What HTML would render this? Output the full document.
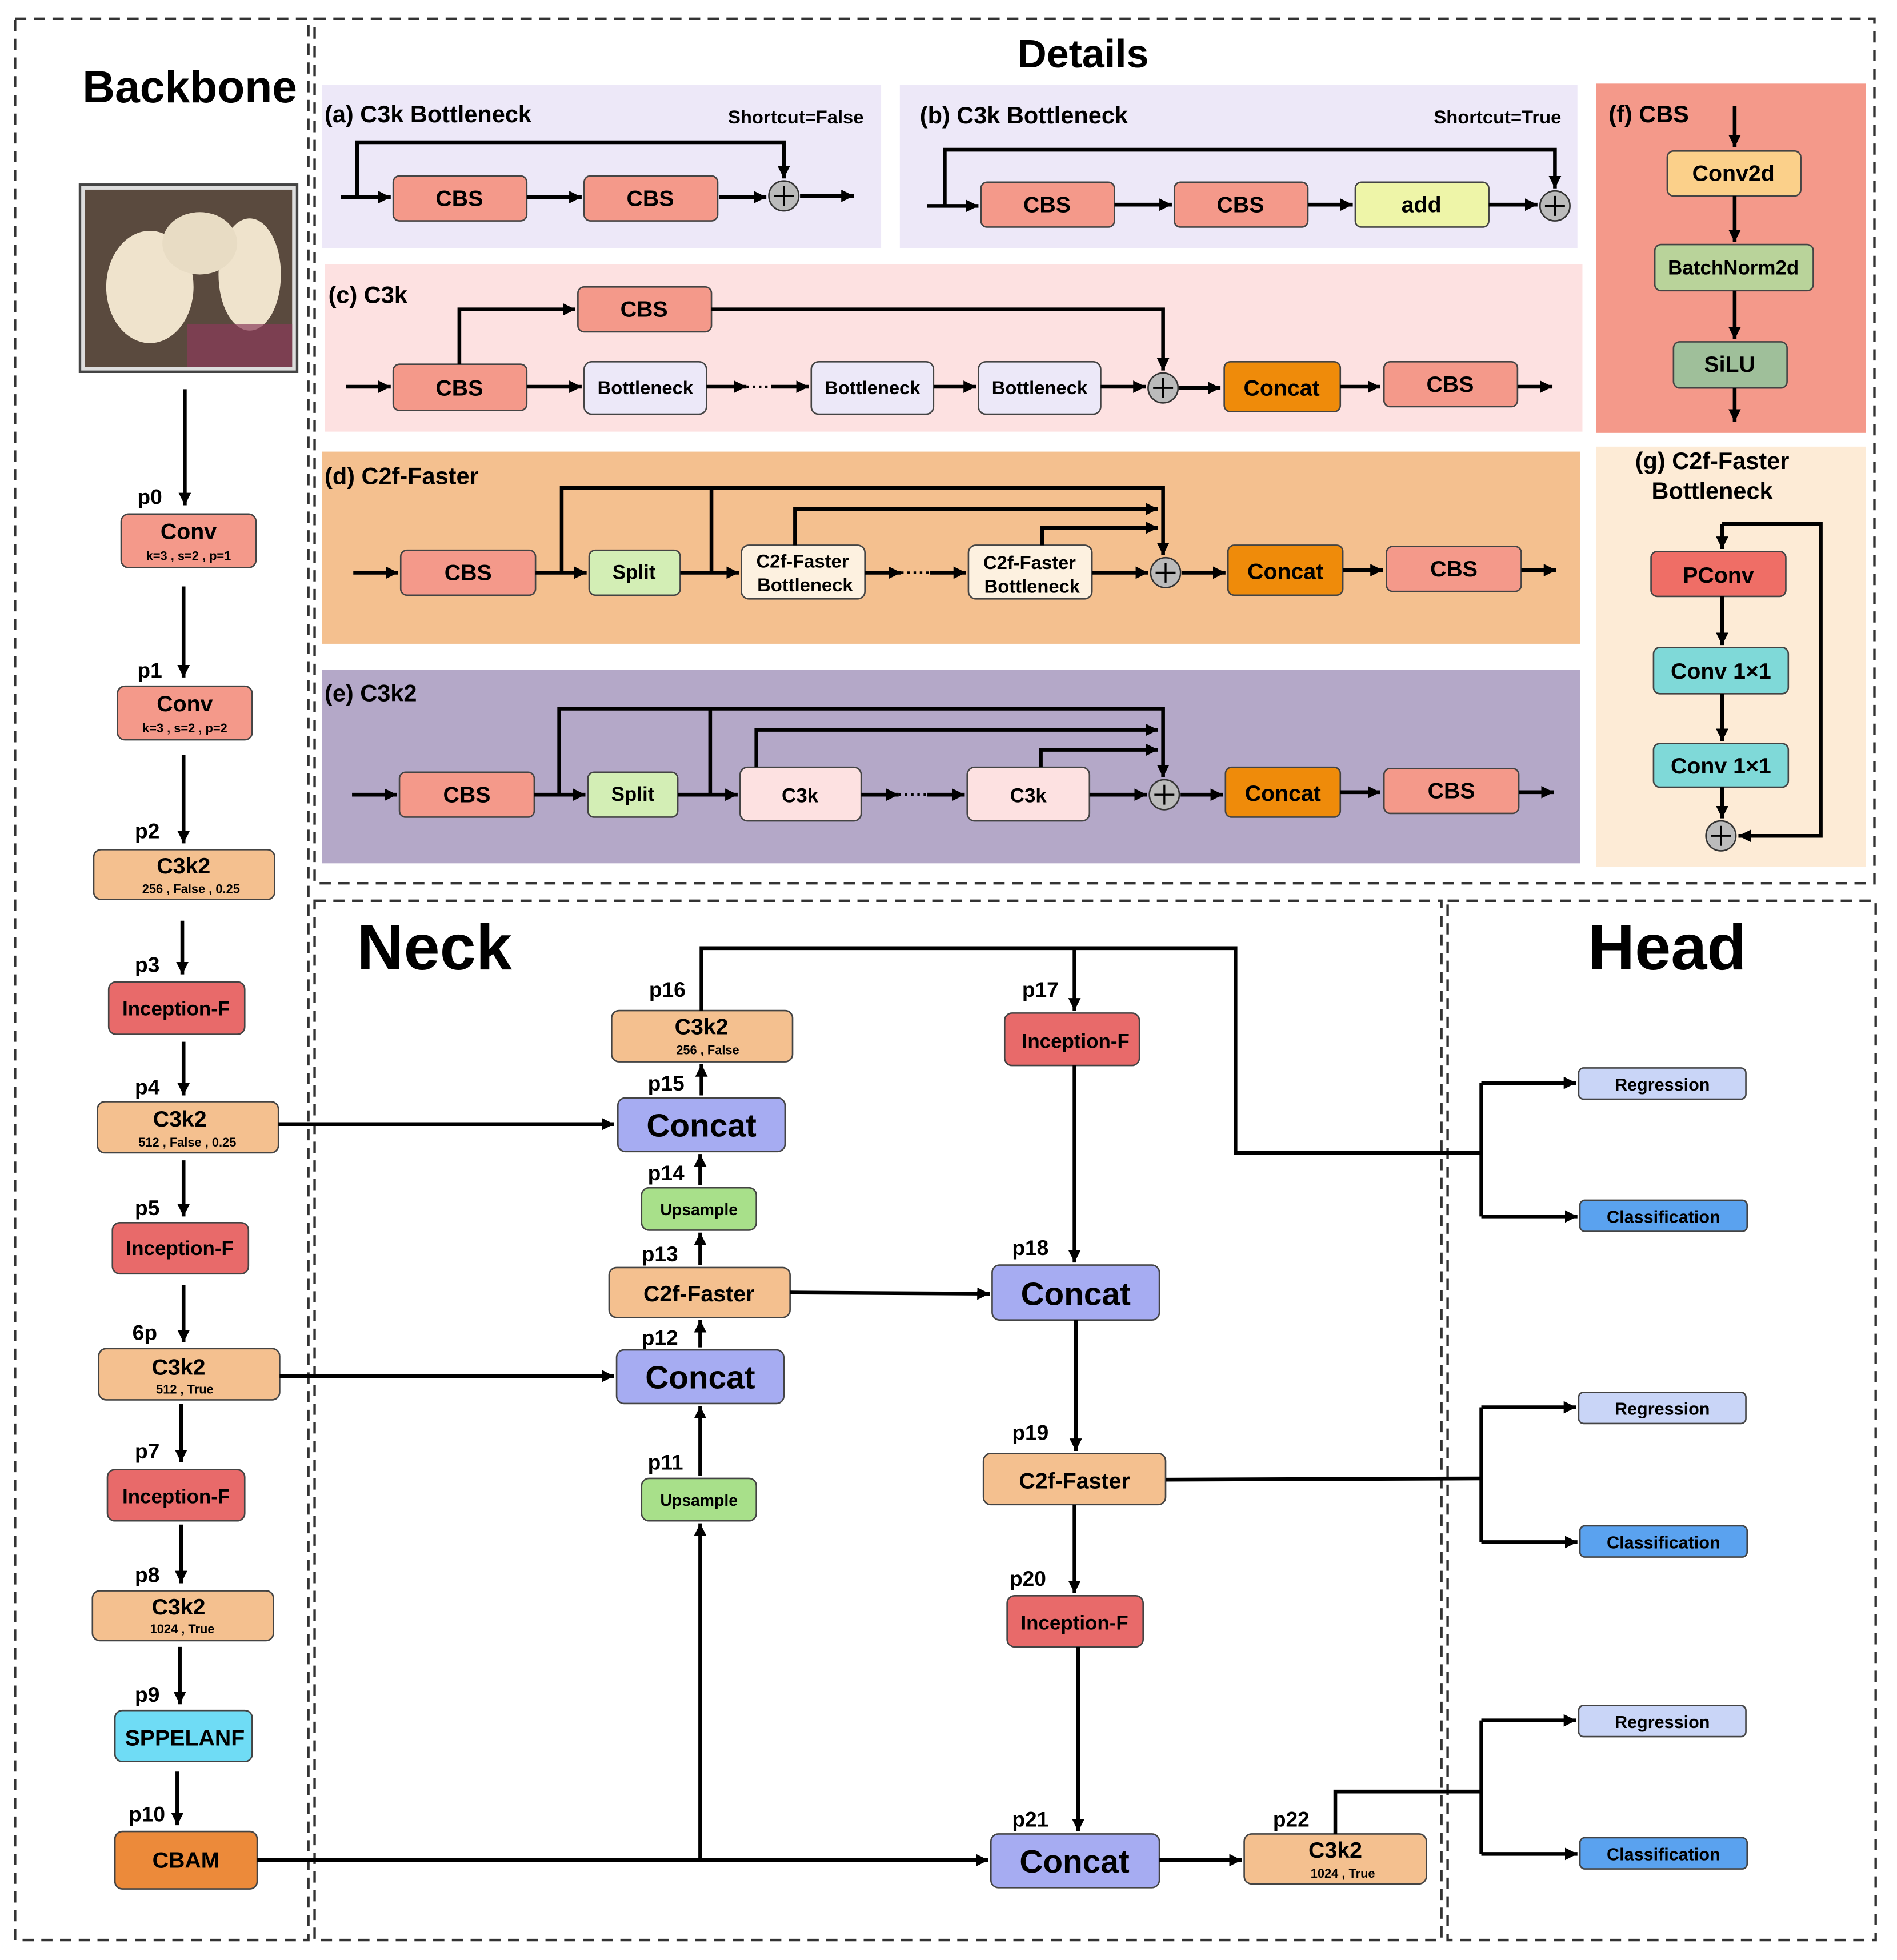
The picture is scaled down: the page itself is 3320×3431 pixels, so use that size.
<!DOCTYPE html>
<html><head><meta charset="utf-8"><style>html,body{margin:0;padding:0;background:#fff}svg{display:block}text{font-family:"Liberation Sans",sans-serif;font-weight:bold}</style></head>
<body>
<svg width="3320" height="3431" viewBox="0 0 1520 1571" xmlns="http://www.w3.org/2000/svg">
<defs>
<marker id="a" markerUnits="userSpaceOnUse" markerWidth="12" markerHeight="12" refX="10" refY="5" orient="auto"><path d="M0,0 L10,5 L0,10 z" fill="#000"/></marker>
</defs>
<rect width="1520" height="1571" fill="#fff"/>
<g fill="none" stroke="#333" stroke-width="2" stroke-dasharray="9,6">
<rect x="12" y="15" width="235" height="1540"/>
<rect x="252" y="15" width="1250" height="693"/>
<rect x="252" y="722" width="903" height="833"/>
<rect x="1160" y="722" width="343" height="833"/>
</g>
<rect x="258" y="68" width="448" height="131" fill="#ede8f8"/>
<rect x="721" y="68" width="543" height="131" fill="#ede8f8"/>
<rect x="260" y="212" width="1008" height="134" fill="#fde1e1"/>
<rect x="258" y="362" width="1008" height="154" fill="#f4c08f"/>
<rect x="258" y="537" width="1008" height="155" fill="#b4a8c8"/>
<rect x="1279" y="67" width="216" height="280" fill="#f4998a"/>
<rect x="1279" y="358" width="216" height="337" fill="#fdebd6"/>

<g font-size="36" text-anchor="middle">
<text x="152" y="82">Backbone</text>
<text x="868" y="54" font-size="32">Details</text>
<text x="348" y="777" font-size="52">Neck</text>
<text x="1336" y="777" font-size="52">Head</text>
</g>
<g font-size="19">
<text x="260" y="98">(a) C3k  Bottleneck</text>
<text x="737" y="99">(b) C3k  Bottleneck</text>
<text x="263" y="243">(c) C3k</text>
<text x="260" y="388">(d) C2f-Faster</text>
<text x="260" y="562">(e) C3k2</text>
<text x="1289" y="98">(f) CBS</text>
<text x="1372" y="376" text-anchor="middle">(g) C2f-Faster</text>
<text x="1372" y="400" text-anchor="middle">Bottleneck</text>
<text x="692" y="99" font-size="15" text-anchor="end">Shortcut=False</text>
<text x="1251" y="99" font-size="15" text-anchor="end">Shortcut=True</text>
</g>

<rect x="64" y="148" width="174" height="150" fill="#ddd" stroke="#444" stroke-width="2"/>
<rect x="68" y="152" width="166" height="142" fill="#5a4a3e"/>
<ellipse cx="120" cy="230" rx="35" ry="45" fill="#efe3cc"/>
<ellipse cx="200" cy="220" rx="25" ry="45" fill="#efe3cc"/>
<ellipse cx="160" cy="195" rx="30" ry="25" fill="#e8dcc4"/>
<rect x="150" y="260" width="84" height="34" fill="#8a3a5a" opacity="0.7"/>

<g stroke="#444" stroke-width="1.2">
<rect x="97" y="412" width="108" height="43" rx="6" fill="#f4998a"/>
<rect x="94" y="550" width="108" height="43" rx="6" fill="#f4998a"/>
<rect x="75" y="681" width="145" height="40" rx="6" fill="#f4c08f"/>
<rect x="87" y="787" width="109" height="42" rx="6" fill="#e86a6a"/>
<rect x="78" y="883" width="145" height="41" rx="6" fill="#f4c08f"/>
<rect x="90" y="980" width="109" height="41" rx="6" fill="#e86a6a"/>
<rect x="79" y="1081" width="145" height="41" rx="6" fill="#f4c08f"/>
<rect x="86" y="1178" width="110" height="41" rx="6" fill="#e86a6a"/>
<rect x="74" y="1275" width="145" height="40" rx="6" fill="#f4c08f"/>
<rect x="92" y="1371" width="110" height="41" rx="6" fill="#6fdcf5"/>
<rect x="92" y="1468" width="114" height="46" rx="6" fill="#ec8a3a"/>
<rect x="490" y="810" width="145" height="41" rx="6" fill="#f4c08f"/>
<rect x="495" y="880" width="134" height="43" rx="6" fill="#a6acf2"/>
<rect x="514" y="952" width="92" height="34" rx="6" fill="#a8e08a"/>
<rect x="488" y="1016" width="145" height="40" rx="6" fill="#f4c08f"/>
<rect x="494" y="1082" width="134" height="43" rx="6" fill="#a6acf2"/>
<rect x="514" y="1185" width="92" height="34" rx="6" fill="#a8e08a"/>
<rect x="805" y="812" width="108" height="42" rx="6" fill="#e86a6a"/>
<rect x="795" y="1014" width="134" height="44" rx="6" fill="#a6acf2"/>
<rect x="788" y="1165" width="146" height="41" rx="6" fill="#f4c08f"/>
<rect x="807" y="1279" width="109" height="41" rx="6" fill="#e86a6a"/>
<rect x="794" y="1470" width="135" height="43" rx="6" fill="#a6acf2"/>
<rect x="997" y="1470" width="146" height="40" rx="6" fill="#f4c08f"/>
<rect x="1265" y="856" width="134" height="25" rx="4" fill="#c9d5f7"/>
<rect x="1266" y="962" width="134" height="25" rx="4" fill="#5aa2ef"/>
<rect x="1265" y="1116" width="134" height="25" rx="4" fill="#c9d5f7"/>
<rect x="1266" y="1223" width="134" height="25" rx="4" fill="#5aa2ef"/>
<rect x="1265" y="1367" width="134" height="25" rx="4" fill="#c9d5f7"/>
<rect x="1266" y="1473" width="134" height="25" rx="4" fill="#5aa2ef"/>
<rect x="315" y="141" width="107" height="36" rx="5" fill="#f4998a"/>
<rect x="468" y="141" width="107" height="36" rx="5" fill="#f4998a"/>
<rect x="786" y="146" width="107" height="36" rx="5" fill="#f4998a"/>
<rect x="941" y="146" width="107" height="36" rx="5" fill="#f4998a"/>
<rect x="1086" y="146" width="107" height="36" rx="5" fill="#eef5a8"/>
<rect x="463" y="230" width="107" height="36" rx="5" fill="#f4998a"/>
<rect x="315" y="292" width="107" height="37" rx="5" fill="#f4998a"/>
<rect x="468" y="290" width="98" height="42" rx="6" fill="#ece8f8"/>
<rect x="650" y="290" width="98" height="42" rx="6" fill="#ece8f8"/>
<rect x="784" y="290" width="98" height="42" rx="6" fill="#ece8f8"/>
<rect x="981" y="290" width="93" height="40" rx="5" fill="#ef8b0a"/>
<rect x="1109" y="290" width="107" height="36" rx="5" fill="#f4998a"/>
<rect x="321" y="441" width="108" height="36" rx="5" fill="#f4998a"/>
<rect x="472" y="441" width="73" height="36" rx="5" fill="#d3eeb5"/>
<rect x="594" y="437" width="99" height="43" rx="6" fill="#fdf1e0"/>
<rect x="776" y="437" width="99" height="43" rx="6" fill="#fdf1e0"/>
<rect x="984" y="437" width="92" height="40" rx="5" fill="#ef8b0a"/>
<rect x="1111" y="438" width="108" height="36" rx="5" fill="#f4998a"/>
<rect x="320" y="619" width="108" height="36" rx="5" fill="#f4998a"/>
<rect x="471" y="619" width="72" height="36" rx="5" fill="#d3eeb5"/>
<rect x="593" y="615" width="97" height="43" rx="6" fill="#fde1e1"/>
<rect x="775" y="615" width="98" height="43" rx="6" fill="#fde1e1"/>
<rect x="982" y="615" width="92" height="40" rx="5" fill="#ef8b0a"/>
<rect x="1109" y="616" width="108" height="36" rx="5" fill="#f4998a"/>
<rect x="1336" y="121" width="107" height="36" rx="5" fill="#fbd08a"/>
<rect x="1326" y="196" width="127" height="37" rx="5" fill="#b9d39a"/>
<rect x="1341" y="274" width="91" height="37" rx="5" fill="#9fbf9a"/>
<rect x="1323" y="442" width="108" height="36" rx="5" fill="#ef6e66"/>
<rect x="1325" y="519" width="108" height="37" rx="5" fill="#7fd9d8"/>
<rect x="1325" y="596" width="108" height="35" rx="5" fill="#7fd9d8"/>
<g fill="#bbb" stroke="#333">
<circle cx="628" cy="157" r="12"/><circle cx="1246" cy="165" r="12"/>
<circle cx="932" cy="311" r="12"/><circle cx="934" cy="459" r="12"/>
<circle cx="933" cy="637" r="12"/><circle cx="1379" cy="670" r="12"/>
</g>
</g>
<g stroke="#000" stroke-width="1.5">
<path d="M620,157h16M628,149v16M1238,165h16M1246,157v16M924,311h16M932,303v16M926,459h16M934,451v16M925,637h16M933,629v16M1371,670h16M1379,662v16"/>
</g>

<g fill="none" stroke="#000" stroke-width="3" marker-end="url(#a)">
<path d="M148,312V405"/><path d="M147,470V543"/><path d="M147,605V676"/><path d="M146,738V781"/>
<path d="M147,835V878"/><path d="M147,930V975"/><path d="M147,1030V1076"/><path d="M145,1125V1172"/>
<path d="M145,1222V1269"/><path d="M144,1320V1366"/><path d="M142,1420V1463"/>
<path d="M206,1491H792"/><path d="M561,1491V1221"/>
<path d="M223,901H492"/><path d="M224,1103H492"/>
<path d="M562,878V853"/><path d="M561,950V925"/><path d="M561,1014V988"/><path d="M561,1080V1058"/><path d="M561,1183V1127"/>
<path d="M633,1036L793,1037"/>
<path d="M562,810V760H861V810"/>
<path d="M861,854V1012"/><path d="M862,1058V1163"/><path d="M861,1206V1277"/><path d="M864,1320V1468"/>
<path d="M929,1491H995"/>
<path d="M1187,868H1263"/><path d="M1187,975H1264"/>
<path d="M1187,1128H1263"/><path d="M1187,1236H1264"/>
<path d="M1187,1379H1263"/><path d="M1187,1486H1264"/>
<path d="M273,158H313"/><path d="M286,158V114H628V143"/><path d="M422,158H466"/><path d="M576,158H614"/><path d="M641,157H684"/>
<path d="M743,165H784"/><path d="M757,165V120H1246V151"/><path d="M893,164H939"/><path d="M1048,164H1084"/><path d="M1193,164H1232"/>
<path d="M277,310H313"/><path d="M368,292V248H461"/><path d="M570,248H932V297"/><path d="M422,310H466"/><path d="M566,310H598"/><path d="M618,310H648"/><path d="M748,310H782"/><path d="M882,310H918"/><path d="M945,311H978"/><path d="M1074,310H1106"/><path d="M1216,310H1244"/>
<path d="M283,459H319"/><path d="M429,459H470"/><path d="M450,459V391H932V445"/><path d="M545,459H592"/><path d="M637,437V408H928"/><path d="M835,437V423H928"/><path d="M693,459H722"/><path d="M745,459H774"/><path d="M875,459H920"/><path d="M947,459H982"/><path d="M1076,457H1108"/><path d="M1219,457H1247"/>
<path d="M282,637H318"/><path d="M428,637H469"/><path d="M448,637V568H932V623"/><path d="M543,637H591"/><path d="M606,615V585H928"/><path d="M834,615V601H928"/><path d="M690,637H720"/><path d="M743,637H773"/><path d="M873,637H919"/><path d="M946,637H980"/><path d="M1074,635H1106"/><path d="M1217,635H1245"/>
<path d="M1390,85V118"/><path d="M1390,157V194"/><path d="M1390,233V272"/><path d="M1390,311V338"/>
<path d="M1380,420V440"/><path d="M1380,478V517"/><path d="M1380,556V594"/><path d="M1380,631V656"/>
<path d="M1380,420H1459V670H1393"/>
</g>
<g fill="none" stroke="#000" stroke-width="3">
<path d="M861,760H990V924H1187"/><path d="M1187,868V975"/><path d="M934,1186L1187,1185"/><path d="M1187,1128V1236"/>
<path d="M1070,1470V1436H1187"/><path d="M1187,1379V1486"/>
<path d="M570,459V391"/><path d="M569,637V568"/>
</g>
<g fill="none" stroke="#000" stroke-width="2" stroke-dasharray="2,3">
<path d="M598,310H618M722,459H745M720,637H743"/>
</g>

<g font-size="17" text-anchor="start">
<text x="110" y="404">p0</text><text x="110" y="543">p1</text><text x="108" y="672">p2</text><text x="108" y="779">p3</text>
<text x="108" y="877">p4</text><text x="108" y="974">p5</text><text x="106" y="1074">6p</text><text x="108" y="1169">p7</text>
<text x="108" y="1268">p8</text><text x="108" y="1364">p9</text><text x="103" y="1460">p10</text>
<text x="520" y="799">p16</text><text x="519" y="874">p15</text><text x="519" y="946">p14</text><text x="514" y="1011">p13</text>
<text x="514" y="1078">p12</text><text x="519" y="1178">p11</text><text x="819" y="799">p17</text><text x="811" y="1006">p18</text>
<text x="811" y="1154">p19</text><text x="809" y="1271">p20</text><text x="811" y="1464">p21</text><text x="1020" y="1464">p22</text>
</g>
<g text-anchor="middle" font-size="18">
<text x="151" y="432">Conv</text><text x="151" y="449" font-size="10">k=3 , s=2 , p=1</text>
<text x="148" y="570">Conv</text><text x="148" y="587" font-size="10">k=3 , s=2 , p=2</text>
<text x="147" y="700">C3k2</text><text x="153" y="716" font-size="10">256 , False , 0.25</text>
<text x="141" y="814" font-size="16">Inception-F</text>
<text x="144" y="903">C3k2</text><text x="150" y="919" font-size="10">512 , False , 0.25</text>
<text x="144" y="1006" font-size="16">Inception-F</text>
<text x="143" y="1102">C3k2</text><text x="148" y="1117" font-size="10">512 , True</text>
<text x="141" y="1205" font-size="16">Inception-F</text>
<text x="143" y="1294">C3k2</text><text x="146" y="1309" font-size="10">1024 , True</text>
<text x="148" y="1399">SPPELANF</text>
<text x="149" y="1497">CBAM</text>
<text x="562" y="829">C3k2</text><text x="567" y="845" font-size="10">256 , False</text>
<text x="562" y="911" font-size="26">Concat</text>
<text x="560" y="974" font-size="13">Upsample</text>
<text x="560" y="1043">C2f-Faster</text>
<text x="561" y="1113" font-size="26">Concat</text>
<text x="560" y="1207" font-size="13">Upsample</text>
<text x="862" y="840" font-size="16">Inception-F</text>
<text x="862" y="1046" font-size="26">Concat</text>
<text x="861" y="1193">C2f-Faster</text>
<text x="861" y="1306" font-size="16">Inception-F</text>
<text x="861" y="1501" font-size="26">Concat</text>
<text x="1070" y="1489">C3k2</text><text x="1076" y="1505" font-size="10">1024 , True</text>
<text x="1332" y="874" font-size="14">Regression</text><text x="1333" y="980" font-size="14">Classification</text>
<text x="1332" y="1134" font-size="14">Regression</text><text x="1333" y="1241" font-size="14">Classification</text>
<text x="1332" y="1385" font-size="14">Regression</text><text x="1333" y="1491" font-size="14">Classification</text>
<text x="368" y="165">CBS</text><text x="521" y="165">CBS</text>
<text x="839" y="170">CBS</text><text x="994" y="170">CBS</text><text x="1139" y="170">add</text>
<text x="516" y="254">CBS</text><text x="368" y="317">CBS</text>
<text x="517" y="316" font-size="15">Bottleneck</text><text x="699" y="316" font-size="15">Bottleneck</text><text x="833" y="316" font-size="15">Bottleneck</text>
<text x="1027" y="317">Concat</text><text x="1162" y="314">CBS</text>
<text x="375" y="465">CBS</text><text x="508" y="464" font-size="16">Split</text>
<text x="643" y="455" font-size="15">C2f-Faster</text><text x="645" y="474" font-size="15">Bottleneck</text>
<text x="825" y="456" font-size="15">C2f-Faster</text><text x="827" y="475" font-size="15">Bottleneck</text>
<text x="1030" y="464">Concat</text><text x="1165" y="462">CBS</text>
<text x="374" y="643">CBS</text><text x="507" y="642" font-size="16">Split</text>
<text x="641" y="643" font-size="16">C3k</text><text x="824" y="643" font-size="16">C3k</text>
<text x="1028" y="642">Concat</text><text x="1163" y="640">CBS</text>
<text x="1389" y="145">Conv2d</text><text x="1389" y="220" font-size="16">BatchNorm2d</text><text x="1386" y="298">SiLU</text>
<text x="1377" y="467">PConv</text><text x="1379" y="544">Conv 1×1</text><text x="1379" y="620">Conv 1×1</text>
</g>
</svg>
</body></html>
